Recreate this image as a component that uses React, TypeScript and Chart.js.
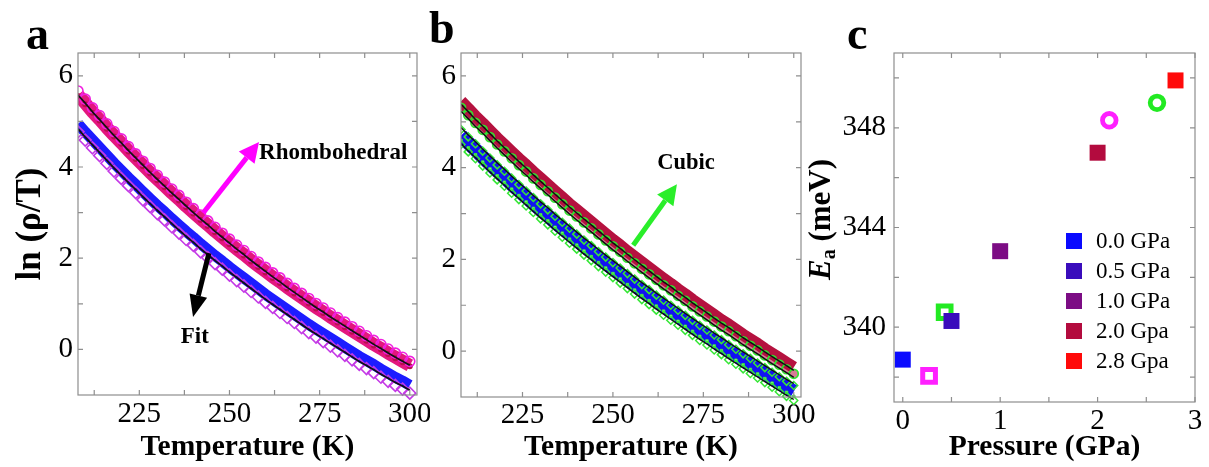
import React, { useEffect, useRef } from 'react';
import { Chart, registerables } from 'chart.js';
Chart.register(...registerables);

const FONT = "'Liberation Serif', 'Times New Roman', serif";

// ---------- data ----------
const temps = [208,210,212,214,216,218,220,222,224,226,228,230,232,234,236,238,240,242,244,246,248,250,252,254,256,258,260,262,264,266,268,270,272,274,276,278,280,282,284,286,288,290,292,294,296,298,300];
// panel a: rhombohedral (upper band) and lower band
const aUpper = [5.58,5.40,5.21,5.04,4.86,4.69,4.53,4.36,4.20,4.04,3.88,3.73,3.58,3.43,3.29,3.14,3.00,2.86,2.73,2.59,2.46,2.33,2.20,2.08,1.95,1.83,1.71,1.59,1.48,1.36,1.25,1.14,1.03,0.92,0.82,0.71,0.61,0.51,0.41,0.31,0.21,0.11,0.02,-0.08,-0.17,-0.26,-0.35];
const aLower = [4.88,4.70,4.53,4.36,4.19,4.02,3.86,3.70,3.55,3.39,3.24,3.09,2.95,2.80,2.66,2.52,2.39,2.25,2.12,1.99,1.87,1.74,1.62,1.50,1.38,1.26,1.14,1.03,0.92,0.81,0.70,0.59,0.48,0.38,0.28,0.18,0.08,-0.02,-0.12,-0.22,-0.31,-0.40,-0.50,-0.59,-0.68,-0.76,-0.85];
// panel b: cubic
const bUpper = [5.36,5.20,5.03,4.88,4.72,4.56,4.41,4.26,4.11,3.97,3.82,3.68,3.54,3.40,3.26,3.12,2.99,2.86,2.73,2.60,2.47,2.34,2.22,2.09,1.97,1.85,1.73,1.61,1.49,1.38,1.26,1.15,1.03,0.92,0.81,0.70,0.59,0.49,0.38,0.27,0.17,0.07,-0.04,-0.14,-0.24,-0.34,-0.44];
const bLower = [4.70,4.54,4.39,4.23,4.08,3.93,3.79,3.64,3.50,3.36,3.22,3.08,2.95,2.81,2.68,2.55,2.42,2.29,2.17,2.04,1.92,1.80,1.68,1.56,1.44,1.32,1.21,1.09,0.98,0.87,0.76,0.65,0.54,0.43,0.33,0.22,0.12,0.01,-0.09,-0.19,-0.29,-0.39,-0.49,-0.59,-0.69,-0.79,-0.88];

const tempTicks = [225, 250, 275, 300];
const tempTickMarks = [212.5, 225, 237.5, 250, 262.5, 275, 287.5, 300];
const lnTicks = [0, 2, 4, 6];
const lnTickMarks = [0, 1, 2, 3, 4, 5, 6];

// panel c
const pressures = [0.0, 0.5, 1.0, 2.0, 2.8];
const energies = [338.7, 340.25, 343.05, 347.0, 349.9];
const pressureLabels = ['0.0 GPa', '0.5 GPa', '1.0 GPa', '2.0 Gpa', '2.8 Gpa'];
const pressureColors = ['#0a0aff', '#3a0cbc', '#7c0c84', '#b30b3e', '#ff0a0a'];
const openSquareP = [0.27, 0.43];
const openSquareE = [338.05, 340.6];
const openCircleP = [2.12, 2.61];
const openCircleE = [348.3, 349.0];
const openColors = ['#ff20ff', '#22ea22'];
const pTicks = [0, 1, 2, 3];
const pTickMarks = [0, 0.5, 1, 1.5, 2, 2.5, 3];
const eTicks = [340, 344, 348];
const eTickMarks = [338, 340, 342, 344, 346, 348, 350];

// ---------- helpers ----------
const pts = (xs: number[], ys: number[]) => xs.map((x, i) => ({ x, y: ys[i] }));
const setTicks = (vals: number[]) => (s: any) => { s.ticks = vals.map((v) => ({ value: v })); };
const forceX = (h: number) => (s: any) => { s.height = h; s.paddingLeft = 0; s.paddingRight = 0; };
const forceY = (w: number) => (s: any) => { s.width = w; s.paddingTop = 0; s.paddingBottom = 0; };

const shiftPlugin = {
  id: 'shiftY',
  beforeDatasetDraw(chart: any, args: any) {
    const ds: any = chart.data.datasets[args.index];
    chart.ctx.save();
    if (ds.shiftY) chart.ctx.translate(0, ds.shiftY);
  },
  afterDatasetDraw(chart: any) {
    chart.ctx.restore();
  },
};

function framePlugin(xMarks: number[], yMarks: number[]) {
  return {
    id: 'frame',
    afterDraw(chart: any) {
      const { ctx, chartArea } = chart;
      const { left, right, top, bottom } = chartArea;
      const x = chart.scales.x, y = chart.scales.y;
      ctx.save();
      ctx.strokeStyle = '#8e8e8e';
      ctx.lineWidth = 1.2;
      ctx.strokeRect(left, top, right - left, bottom - top);
      const L = 5;
      ctx.beginPath();
      xMarks.forEach((v) => {
        const px = x.getPixelForValue(v);
        ctx.moveTo(px, bottom); ctx.lineTo(px, bottom - L);
        ctx.moveTo(px, top); ctx.lineTo(px, top + L);
      });
      yMarks.forEach((v) => {
        const py = y.getPixelForValue(v);
        ctx.moveTo(left, py); ctx.lineTo(left + L, py);
        ctx.moveTo(right, py); ctx.lineTo(right - L, py);
      });
      ctx.stroke();
      ctx.restore();
    },
  };
}

function annoPlugin(arrows: any[], texts: any[]) {
  return {
    id: 'anno',
    afterDatasetsDraw(chart: any) {
      const { ctx } = chart;
      const x = chart.scales.x, y = chart.scales.y;
      ctx.save();
      arrows.forEach((a) => {
        const x0 = x.getPixelForValue(a.from[0]), y0 = y.getPixelForValue(a.from[1]);
        const x1 = x.getPixelForValue(a.to[0]), y1 = y.getPixelForValue(a.to[1]);
        const ang = Math.atan2(y1 - y0, x1 - x0);
        const bx = x1 - a.head * Math.cos(ang), by = y1 - a.head * Math.sin(ang);
        ctx.strokeStyle = a.color; ctx.lineWidth = a.width; ctx.lineCap = 'butt';
        ctx.beginPath(); ctx.moveTo(x0, y0); ctx.lineTo(bx, by); ctx.stroke();
        const nx = -Math.sin(ang), ny = Math.cos(ang);
        ctx.fillStyle = a.color;
        ctx.beginPath();
        ctx.moveTo(x1, y1);
        ctx.lineTo(bx + nx * a.half, by + ny * a.half);
        ctx.lineTo(bx - nx * a.half, by - ny * a.half);
        ctx.closePath(); ctx.fill();
      });
      texts.forEach((t) => {
        ctx.font = `bold ${t.size}px ${FONT}`;
        ctx.fillStyle = '#000';
        ctx.textAlign = t.align;
        ctx.textBaseline = 'middle';
        ctx.fillText(t.text, x.getPixelForValue(t.at[0]), y.getPixelForValue(t.at[1]));
      });
      ctx.restore();
    },
  };
}

const band = (vals: number[], color: string, width: number, shiftY: number) => ({
  data: pts(temps, vals), borderColor: color, borderWidth: width, pointRadius: 0,
  borderJoinStyle: 'round', borderCapStyle: 'butt', fill: false, tension: 0, shiftY,
});
const markers = (vals: number[], style: string, r: number, color: string, bw: number, shiftY: number, bg = 'rgba(0,0,0,0)') => ({
  data: pts(temps, vals), showLine: false, pointStyle: style, pointRadius: r,
  pointBorderColor: color, pointBorderWidth: bw, pointBackgroundColor: bg,
  borderColor: color, backgroundColor: bg, shiftY,
});

const tickFont = { family: FONT, size: 29 };
const titleFont = { family: FONT, size: 29.5, weight: 'bold' as const };

function tempScales(yWidth: number, xHeight: number, yTitle: any, tickPadX: number) {
  return {
    x: {
      type: 'linear', min: 208, max: 302,
      afterBuildTicks: setTicks(tempTicks), afterFit: forceX(xHeight),
      grid: { display: false, drawTicks: false }, border: { display: false },
      ticks: { font: tickFont, color: '#000', padding: tickPadX, maxRotation: 0, autoSkip: false },
      title: { display: true, text: 'Temperature (K)', font: titleFont, color: '#000', padding: { top: 0, bottom: 2 } },
    },
    y: {
      type: 'linear', min: -1, max: 6.5,
      afterBuildTicks: setTicks(lnTicks), afterFit: forceY(yWidth),
      grid: { display: false, drawTicks: false }, border: { display: false },
      ticks: { font: tickFont, color: '#000', padding: 5, autoSkip: false },
      title: yTitle,
    },
  };
}

function makeA() {
  return {
    type: 'line',
    data: {
      datasets: [
        band(aUpper, '#111111', 1.7, 0),
        band(aLower, '#111111', 1.7, 2),
        markers(aUpper, 'circle', 5, '#f020e0', 1.6, -4),
        markers(aLower, 'rectRot', 6, '#c43ae6', 1.6, 5),
        markers(aUpper, 'circle', 3, '#b8104c', 0, 1, '#b8104c'),
        band(aUpper, '#e3177f', 13, 0),
        band(aLower, '#1c1cff', 11, -3),
      ],
    },
    options: {
      responsive: false, animation: false, events: [], devicePixelRatio: 1,
      layout: { padding: { left: 0, right: 13, top: 53, bottom: 0 } },
      plugins: { legend: { display: false }, tooltip: { enabled: false } },
      scales: tempScales(78, 72, {
        display: true, text: 'ln (ρ/T)', color: '#000',
        font: { family: FONT, size: 35, weight: 'bold' }, padding: { top: 10, bottom: 0 },
      }, 2),
    },
    plugins: [
      shiftPlugin,
      framePlugin(tempTickMarks, lnTickMarks),
      annoPlugin(
        [
          { from: [242.7, 2.99], to: [258.2, 4.55], color: '#ff00ff', width: 5, head: 20, half: 10 },
          { from: [244.3, 2.11], to: [239.9, 0.71], color: '#000000', width: 5, head: 22, half: 9 },
        ],
        [
          { text: 'Rhombohedral', at: [258.2, 4.31], size: 23, align: 'left' },
          { text: 'Fit', at: [240.4, 0.27], size: 23, align: 'center' },
        ]
      ),
    ],
  };
}

function makeB() {
  return {
    type: 'line',
    data: {
      datasets: [
        band(bUpper, '#111111', 1.5, -1),
        band(bUpper, '#111111', 1.5, 6),
        band(bLower, '#111111', 1.4, -8),
        band(bLower, '#111111', 1.4, 8),
        markers(bUpper, 'circle', 4.5, '#2ee82e', 1.7, 2.5, 'rgba(181,18,63,0.55)'),
        markers(bLower, 'rectRot', 4, '#35e635', 1.5, -6),
        markers(bLower, 'rectRot', 4, '#35e635', 1.5, 9),
        markers(bLower, 'rect', 1.8, '#35e635', 1, 5, '#ffffff'),
        band(bUpper, '#b5123f', 12, -4),
        band(bLower, '#1212f2', 14, 0),
      ],
    },
    options: {
      responsive: false, animation: false, events: [], devicePixelRatio: 1,
      layout: { padding: { left: 0, right: 19, top: 53, bottom: 0 } },
      plugins: { legend: { display: false }, tooltip: { enabled: false } },
      scales: tempScales(61, 70, { display: false }, 1),
    },
    plugins: [
      shiftPlugin,
      framePlugin(tempTickMarks, lnTickMarks),
      annoPlugin(
        [{ from: [255.6, 2.31], to: [267.7, 3.64], color: '#2aee2a', width: 5, head: 20, half: 10 }],
        [{ text: 'Cubic', at: [270.2, 4.1], size: 22.5, align: 'center' }]
      ),
    ],
  };
}

const cLegendPlugin = {
  id: 'cLegend',
  afterDraw(chart: any) {
    const { ctx, chartArea } = chart;
    ctx.save();
    ctx.font = `23px ${FONT}`;
    ctx.textBaseline = 'middle';
    ctx.textAlign = 'left';
    pressureLabels.forEach((lab, i) => {
      const cy = chartArea.top + 188 + i * 30;
      ctx.fillStyle = pressureColors[i];
      ctx.fillRect(chartArea.right - 129, cy - 8, 16, 16);
      ctx.fillStyle = '#000';
      ctx.fillText(lab, chartArea.right - 99, cy + 1);
    });
    ctx.restore();
  },
};

const cYTitlePlugin = {
  id: 'cYTitle',
  afterDraw(chart: any) {
    const { ctx, chartArea } = chart;
    const cx = chartArea.left - 72;
    const cy = (chartArea.top + chartArea.bottom) / 2 - 8;
    ctx.save();
    ctx.translate(cx, cy);
    ctx.rotate(-Math.PI / 2);
    ctx.fillStyle = '#000';
    ctx.textBaseline = 'middle';
    ctx.textAlign = 'left';
    const fE = `italic bold 31px ${FONT}`;
    const fSub = `bold 20px ${FONT}`;
    const fMain = `bold 31px ${FONT}`;
    ctx.font = fE; const wE = ctx.measureText('E').width;
    ctx.font = fSub; const wA = ctx.measureText('a').width;
    ctx.font = fMain; const wM = ctx.measureText(' (meV)').width;
    let x0 = -(wE + wA + wM) / 2;
    ctx.font = fE; ctx.fillText('E', x0, 0); x0 += wE;
    ctx.font = fSub; ctx.fillText('a', x0, 8); x0 += wA;
    ctx.font = fMain; ctx.fillText(' (meV)', x0, 0);
    ctx.restore();
  },
};

function makeC() {
  return {
    type: 'scatter',
    data: {
      datasets: [
        {
          data: pts(pressures, energies), pointStyle: 'rect', pointRadius: 11.3,
          pointBackgroundColor: pressureColors, pointBorderColor: pressureColors, pointBorderWidth: 0,
        },
        {
          data: pts(openSquareP, openSquareE), pointStyle: 'rect', pointRadius: 9,
          pointBorderColor: openColors, pointBorderWidth: 5, pointBackgroundColor: 'rgba(0,0,0,0)',
        },
        {
          data: pts(openCircleP, openCircleE), pointStyle: 'circle', pointRadius: 6.8,
          pointBorderColor: openColors, pointBorderWidth: 4.8, pointBackgroundColor: 'rgba(0,0,0,0)',
        },
      ],
    },
    options: {
      responsive: false, animation: false, events: [], devicePixelRatio: 1,
      layout: { padding: { left: 0, right: 12, top: 53, bottom: 0 } },
      plugins: { legend: { display: false }, tooltip: { enabled: false } },
      scales: {
        x: {
          type: 'linear', min: -0.09, max: 3.0,
          afterBuildTicks: setTicks(pTicks), afterFit: forceX(65),
          grid: { display: false, drawTicks: false }, border: { display: false },
          ticks: { font: tickFont, color: '#000', padding: 2, maxRotation: 0, autoSkip: false },
          title: { display: true, text: 'Pressure (GPa)', font: titleFont, color: '#000', padding: { top: 0, bottom: 2 } },
        },
        y: {
          type: 'linear', min: 337, max: 351,
          afterBuildTicks: setTicks(eTicks), afterFit: forceY(104),
          grid: { display: false, drawTicks: false }, border: { display: false },
          ticks: { font: tickFont, color: '#000', padding: 8, autoSkip: false },
          title: { display: false },
        },
      },
    },
    plugins: [framePlugin(pTickMarks, eTickMarks), cLegendPlugin, cYTitlePlugin],
  };
}

function ChartCanvas({ make, left, width }: { make: () => any; left: number; width: number }) {
  const ref = useRef<HTMLCanvasElement>(null);
  useEffect(() => {
    const chart = new Chart(ref.current as HTMLCanvasElement, make());
    return () => chart.destroy();
  }, []);
  return (
    <canvas
      ref={ref}
      width={width}
      height={467}
      style={{ position: 'absolute', left, top: 0, width, height: 467 }}
    />
  );
}

const letterStyle = (left: number, top: number): React.CSSProperties => ({
  position: 'absolute', left, top, fontFamily: FONT, fontWeight: 'bold',
  fontSize: 46, lineHeight: '46px', color: '#000',
});

export default function App() {
  return (
    <div style={{ position: 'fixed', left: 0, top: 0, width: 1209, height: 467, background: '#fff', overflow: 'hidden' }}>
      <ChartCanvas make={makeA} left={0} width={430} />
      <ChartCanvas make={makeB} left={400} width={420} />
      <ChartCanvas make={makeC} left={790} width={419} />
      <span style={letterStyle(26, 11)}>a</span>
      <span style={letterStyle(429, 5)}>b</span>
      <span style={letterStyle(847, 11)}>c</span>
    </div>
  );
}
